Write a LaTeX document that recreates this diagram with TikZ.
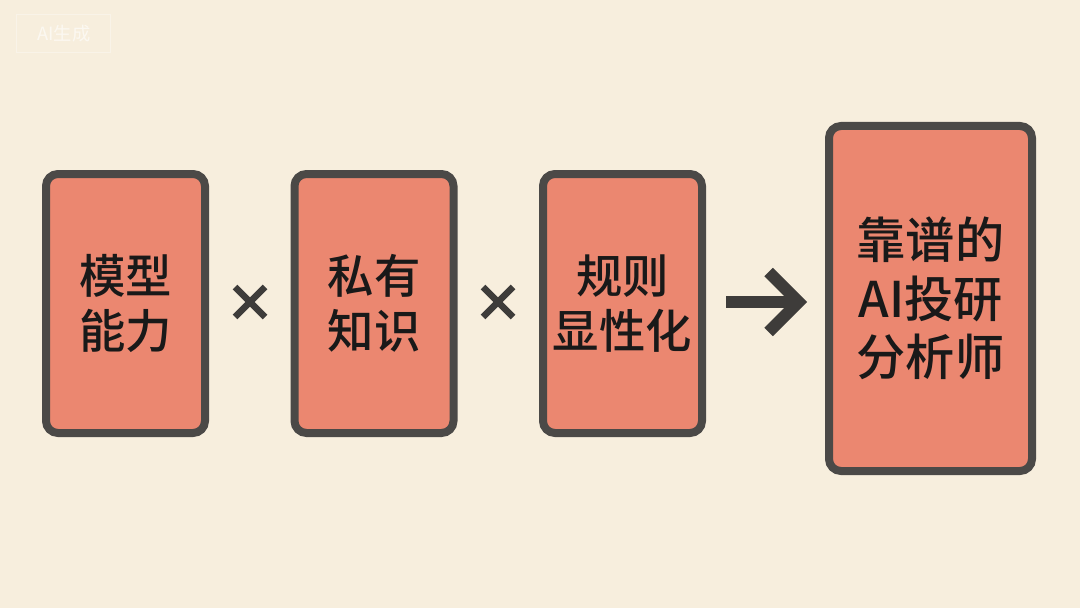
\documentclass[tikz,border=0pt]{standalone}
\usepackage{fontspec}
\newfontfamily\cjk{Noto Sans CJK SC}[BoldFont={Noto Sans CJK SC Medium}]
\usetikzlibrary{arrows.meta}
\definecolor{bgcream}{HTML}{F7EEDD}
\definecolor{cardfill}{HTML}{EB8770}
\definecolor{cardline}{HTML}{4B4947}
\definecolor{inkdark}{HTML}{3E3C3A}
\tikzset{
  card/.style={draw=cardline, line width=0.2cm, fill=cardfill, rounded corners=0.3cm,
    minimum width=3.975cm, minimum height=6.475cm, align=center,
    font=\cjk\bfseries\fontsize{33}{39}\selectfont, text=black!90},
  bigcard/.style={card, minimum width=5.075cm, minimum height=8.625cm,
    font=\cjk\bfseries\fontsize{35}{41.5}\selectfont},
  times/.style={draw=inkdark, line width=0.16cm},
}
\begin{document}
\begin{tikzpicture}
\fill[bgcream] (0,0) rectangle (27,15.2);
\useasboundingbox (0,0) rectangle (27,15.2);
\draw[white, opacity=0.35, line width=0.6pt] (0.4,14.85) rectangle (2.75,13.9);
\node[text=white, opacity=0.6, font=\cjk\fontsize{13}{13}\selectfont] (mark) at (1.6,14.35) {AI生成};
\node[card] (model) at (3.1375,7.6125) {模型\\能力};
\node[card] (know) at (9.35,7.6125) {私有\\知识};
\node[card] (rule) at (15.5625,7.6125) {规则\\显性化};
\node[bigcard] (analyst) at (23.2625,7.7375) {靠谱的\\AI投研\\分析师};
\draw[times] (5.875,8.025) -- (6.625,7.275);
\draw[times] (5.875,7.275) -- (6.625,8.025);
\draw[times] (12.075,8.025) -- (12.825,7.275);
\draw[times] (12.075,7.275) -- (12.825,8.025);
\draw[inkdark, line width=0.3cm, -{Straight Barb[length=0.75cm, width=1.5cm, line width=0.3cm]}]
  ([xshift=0.5cm]rule.east |- 0,7.65) -- ([xshift=-0.45cm]analyst.west |- 0,7.65);
\end{tikzpicture}
\end{document}
